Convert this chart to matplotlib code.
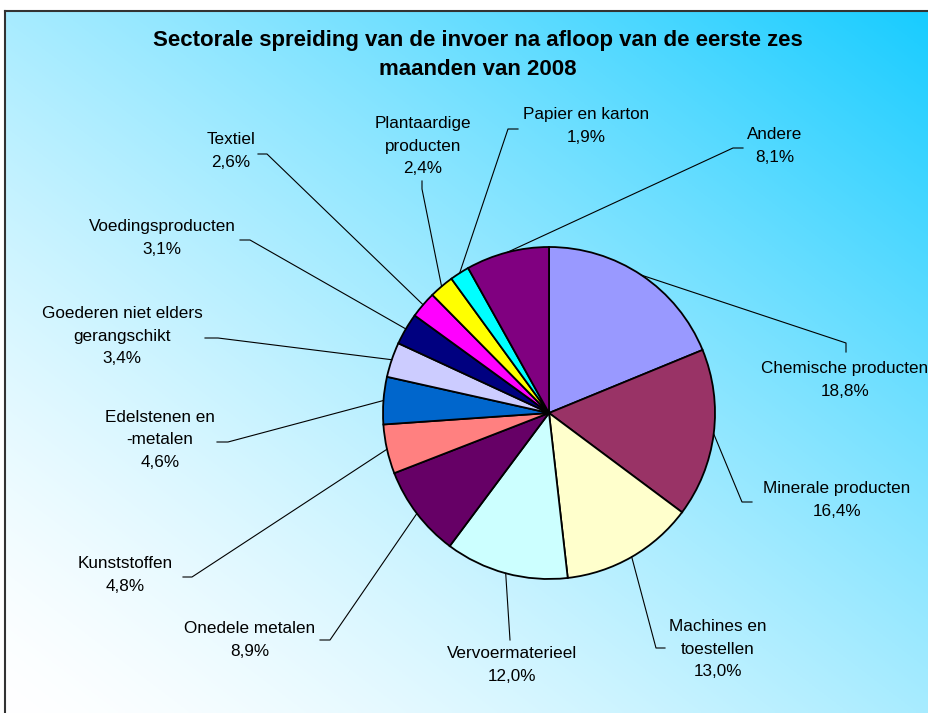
import numpy as np
import matplotlib.pyplot as plt

sectors = ["Chemische producten", "Minerale producten", "Machines en\ntoestellen",
           "Vervoermaterieel", "Onedele metalen", "Kunststoffen",
           "Edelstenen en\n-metalen", "Goederen niet elders\ngerangschikt",
           "Voedingsproducten", "Textiel", "Plantaardige\nproducten",
           "Papier en karton", "Andere"]
shares = [18.8, 16.4, 13.0, 12.0, 8.9, 4.8, 4.6, 3.4, 3.1, 2.6, 2.4, 1.9, 8.1]
colors = ["#9999FF", "#993366", "#FFFFCC", "#CCFFFF", "#660066", "#FF8080",
          "#0066CC", "#CCCCFF", "#000080", "#FF00FF", "#FFFF00", "#00FFFF",
          "#800080"]

W, H = 929, 713
# label centres and leader elbow / tick end, in pixels from the top left
label_pos = [(845, 380), (837, 500), (718, 649), (512, 665), (250, 640),
             (125, 575), (160, 440), (122, 336), (162, 238), (231, 151),
             (423, 146), (586, 126), (775, 146)]
elbow = [(846, 343), (742, 502), (656, 648), (510, 640), (330, 640),
         (192, 577), (228, 442), (218, 338), (250, 240), (267, 154),
         (422, 189), (508, 129), (733, 148)]
tick_end = [(846, 352), (752, 502), (665, 648), (510, 640), (320, 640),
            (183, 577), (217, 442), (205, 338), (240, 240), (258, 154),
            (422, 181), (518, 129), (743, 148)]

cx, cy, r = 549, 413, 166


def fy(y):
    return H - y


fig = plt.figure(figsize=(W / 100, H / 100), dpi=100)
ax = fig.add_axes([0, 0, 1, 1])
ax.set_xlim(0, W)
ax.set_ylim(0, H)
ax.axis("off")

# diagonal gradient background: white bottom-left to cyan top-right
gx = np.linspace(0, 1, 300)
gy = np.linspace(0, 1, 240)
X, Y = np.meshgrid(gx, gy)
t = ((X + Y) / 2) ** 1.4
c0 = np.array([1.0, 1.0, 1.0])
c1 = np.array([0x18, 0xCC, 0xFF]) / 255
img = c0 + (c1 - c0) * t[..., None]
ax.imshow(img, extent=[5, W, 0, fy(11)], origin="lower", aspect="auto", zorder=0)
ax.plot([5.5, 5.5], [0, fy(11)], color="#333333", lw=1.5, zorder=1)
ax.plot([5, W], [fy(11), fy(11)], color="#333333", lw=1.5, zorder=1)

wedges, _ = ax.pie(shares, colors=colors, startangle=90, counterclock=False,
                   center=(cx, fy(cy)), radius=r, frame=True,
                   wedgeprops=dict(edgecolor="black", linewidth=1.3))
ax.set_xlim(0, W)
ax.set_ylim(0, H)
ax.set_aspect("equal")
ax.axis("off")

for w, name, val, pos, el, te in zip(wedges, sectors, shares, label_pos, elbow, tick_end):
    mid = np.deg2rad((w.theta1 + w.theta2) / 2)
    sx = cx + r * np.cos(mid)
    sy = fy(cy) + r * np.sin(mid)
    ax.plot([sx, el[0], te[0]], [sy, fy(el[1]), fy(te[1])], color="black", lw=0.8, zorder=3)
    txt = name + "\n" + f"{val:.1f}%".replace(".", ",")
    ax.text(pos[0], fy(pos[1]), txt, ha="center", va="center", fontsize=12.3,
            family="Liberation Sans", linespacing=1.65, zorder=4)

ax.text(478, fy(55), "Sectorale spreiding van de invoer na afloop van de eerste zes\nmaanden van 2008",
        ha="center", va="center", fontsize=16, fontweight="bold",
        family="Liberation Sans", linespacing=1.5)

fig.savefig("out.png", dpi=100)
